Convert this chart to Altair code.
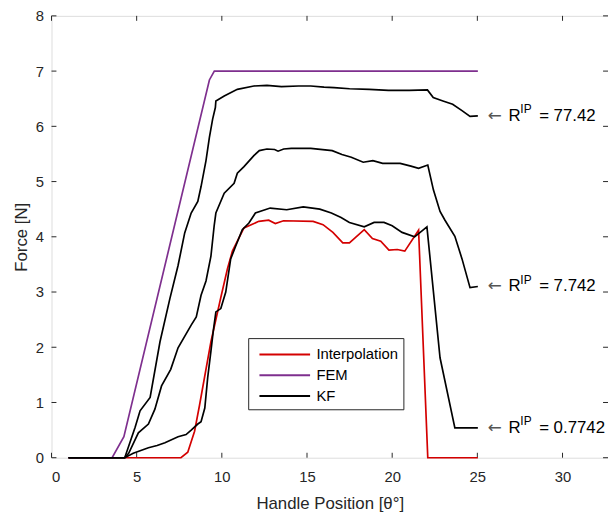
import altair as alt
import pandas as pd

# ---- data ----
fem_x = [1, 3.56, 4.25, 9.27, 9.56, 25.03]
fem_y = [0, 0, 0.38, 6.84, 7.0, 7.0]

interp_x = [1, 7.6, 8.0, 8.4, 8.69, 9.36, 9.94, 10.33, 10.62, 11.3, 12.17, 12.75, 13.14, 13.62,
            15.36, 15.94, 16.52, 17.1, 17.49, 18.36, 18.84, 19.33, 19.81, 20.3, 20.74, 21.55, 22.09, 25.03]
interp_y = [0, 0, 0.1, 0.48, 0.95, 2.1, 2.9, 3.42, 3.74, 4.16, 4.28, 4.30, 4.24, 4.29,
            4.28, 4.22, 4.08, 3.89, 3.89, 4.13, 3.97, 3.92, 3.76, 3.77, 3.74, 4.12, 0, 0]

kf_hi_x = [1, 4.3, 4.91, 5.2, 5.79, 6.37, 6.95, 7.43, 7.82, 8.2, 8.59, 8.78, 9.07, 9.27, 9.46, 9.62,
           9.65, 10.14, 10.91, 11.88, 12.65, 13.5, 14.5, 15.22, 16.0, 16.59, 17.5, 18.65, 19.78,
           21.0, 22.07, 22.41, 22.98, 23.55, 24.12, 24.57, 25.03]
kf_hi_y = [0, 0, 0.55, 0.85, 1.09, 2.1, 2.88, 3.48, 4.07, 4.43, 4.64, 4.91, 5.38, 5.80, 6.13, 6.34,
           6.46, 6.55, 6.67, 6.73, 6.74, 6.72, 6.73, 6.73, 6.71, 6.70, 6.68, 6.67, 6.65,
           6.65, 6.66, 6.52, 6.46, 6.40, 6.28, 6.18, 6.19]

kf_mid_x = [1, 4.3, 4.53, 5.1, 5.69, 6.07, 6.46, 7.0, 7.43, 8.2, 8.5, 8.78, 9.07, 9.36, 9.55, 9.65,
            10.14, 10.72, 10.91, 11.3, 11.88, 12.2, 12.65, 13.1, 13.3, 13.63, 14.08, 15.22, 16.48,
            17.05, 17.6, 18.3, 18.87, 19.44, 20.47, 21.1, 21.55, 22.09, 22.42, 22.81, 23.1, 23.68,
            24.1, 24.57, 25.03]
kf_mid_y = [0, 0, 0.08, 0.45, 0.61, 0.88, 1.3, 1.6, 1.99, 2.40, 2.55, 2.94, 3.2, 3.65, 4.2, 4.43,
            4.79, 4.97, 5.15, 5.27, 5.47, 5.56, 5.59, 5.58, 5.55, 5.59, 5.60, 5.60, 5.56,
            5.49, 5.44, 5.35, 5.38, 5.33, 5.33, 5.28, 5.24, 5.30, 4.85, 4.46, 4.3, 4.01,
            3.6, 3.08, 3.1]

kf_lo_x = [1, 4.3, 4.8, 5.69, 6.2, 6.66, 7.43, 7.9, 8.2, 8.59, 8.78, 9.0, 9.17, 9.36, 9.5, 9.65,
           9.94, 10.23, 10.52, 10.81, 11.2, 11.59, 11.97, 12.84, 13.81, 14.78, 15.75, 16.43, 17.0,
           17.49, 18.36, 18.94, 19.52, 20.0, 20.58, 21.32, 22.04, 22.81, 23.68, 25.03]
kf_lo_y = [0, 0, 0.08, 0.18, 0.22, 0.27, 0.38, 0.42, 0.5, 0.61, 0.65, 0.9, 1.45, 1.93, 2.3, 2.64,
           2.70, 3.0, 3.60, 3.83, 4.13, 4.25, 4.43, 4.52, 4.49, 4.54, 4.50, 4.43, 4.35,
           4.26, 4.18, 4.26, 4.26, 4.2, 4.08, 4.0, 4.18, 1.81, 0.54, 0.54]

series_names = ["Interpolation", "FEM", "KF"]
series_colors = ["#d40000", "#7e2f8e", "#000000"]

annot_values = ["77.42", "7.742", "0.7742"]
annot_x = [25.03, 25.03, 25.03]
annot_y = [6.19, 3.1, 0.54]

x_ticks = [0, 5, 10, 15, 20, 25, 30]
y_ticks = [0, 1, 2, 3, 4, 5, 6, 7, 8]

# ---- build tables ----
rows = []
def add(name, curve, xs, ys):
    for i, (a, b) in enumerate(zip(xs, ys)):
        rows.append({"series": name, "curve": curve, "order": i, "x": a, "y": b})

add("Interpolation", "interp", interp_x, interp_y)
add("FEM", "fem", fem_x, fem_y)
add("KF", "kf_hi", kf_hi_x, kf_hi_y)
add("KF", "kf_mid", kf_mid_x, kf_mid_y)
add("KF", "kf_lo", kf_lo_x, kf_lo_y)
df = pd.DataFrame(rows)

ann = pd.DataFrame({"x": annot_x, "y": annot_y, "val": ["= " + v for v in annot_values]})
xt = pd.DataFrame({"x": x_ticks})
yt = pd.DataFrame({"y": y_ticks})

W, H = 563, 447
FONT = "Liberation Sans"
AX = "#262626"

xs = alt.Scale(domain=[0, 32.67], nice=False, zero=False)
ys = alt.Scale(domain=[0, 8], nice=False)
xaxis = alt.Axis(values=x_ticks, ticks=False, domain=False, grid=False, labelFontSize=15,
                 labelColor=AX, labelPadding=12, titleFontSize=17, titleColor=AX,
                 titleFontWeight="normal", titlePadding=11, labelFont=FONT, titleFont=FONT)
yaxis = alt.Axis(values=y_ticks, ticks=False, domain=False, grid=False, labelFontSize=15,
                 labelColor=AX, labelPadding=8, titleFontSize=17, titleColor=AX,
                 titleFontWeight="normal", titlePadding=5, labelFont=FONT, titleFont=FONT)
X = alt.X("x:Q", scale=xs, axis=xaxis, title="Handle Position [θ°]")
Y = alt.Y("y:Q", scale=ys, axis=yaxis, title="Force [N]")

lines = alt.Chart(df).mark_line(strokeWidth=1.7, interpolate="linear").encode(
    x=X, y=Y,
    color=alt.Color("series:N",
                    scale=alt.Scale(domain=series_names, range=series_colors),
                    sort=series_names,
                    legend=alt.Legend(title=None, orient="none", legendX=199, legendY=326,
                                      symbolType="M-0.5,0L4.5,0", symbolSize=420,
                                      symbolStrokeWidth=2,
                                      labelFontSize=15, labelFont=FONT, labelColor="#000000",
                                      strokeColor=AX, fillColor="white", padding=5,
                                      rowPadding=1, labelOffset=41)),
    detail="curve:N",
    order="order:Q",
)

tick_b = alt.Chart(xt).mark_rule(color=AX, strokeWidth=1).encode(x=X, y=alt.value(H), y2=alt.value(H - 5))
tick_t = alt.Chart(xt).mark_rule(color=AX, strokeWidth=1).encode(x=X, y=alt.value(0), y2=alt.value(5))
tick_l = alt.Chart(yt).mark_rule(color=AX, strokeWidth=1).encode(y=Y, x=alt.value(0), x2=alt.value(5))
tick_r = alt.Chart(yt).mark_rule(color=AX, strokeWidth=1).encode(y=Y, x=alt.value(W), x2=alt.value(W - 5))

base_ann = alt.Chart(ann)
arrow = base_ann.mark_text(align="left", baseline="middle", dx=10, fontSize=17, font="DejaVu Sans",
                           color="#555555", text="←").encode(x=X, y=Y)
r_txt = base_ann.mark_text(align="left", baseline="middle", dx=31, fontSize=17, font=FONT,
                           color="#000000", text="R").encode(x=X, y=Y)
ip_txt = base_ann.mark_text(align="left", baseline="middle", dx=43, dy=-7, fontSize=12, font=FONT,
                            color="#000000", text="IP").encode(x=X, y=Y)
val_txt = base_ann.mark_text(align="left", baseline="middle", dx=62, fontSize=17, font=FONT,
                             color="#000000").encode(x=X, y=Y, text="val:N")

chart = alt.layer(tick_b, tick_t, tick_l, tick_r, lines, arrow, r_txt, ip_txt, val_txt).properties(
    width=W, height=H,
    autosize=alt.AutoSizeParams(type="none"),
    padding={"left": 44, "top": 5, "right": 0, "bottom": 56},
).configure_view(stroke=AX, strokeWidth=1).configure(background="white")

chart.save("out.html", embed_options={"renderer": "svg", "actions": False})
